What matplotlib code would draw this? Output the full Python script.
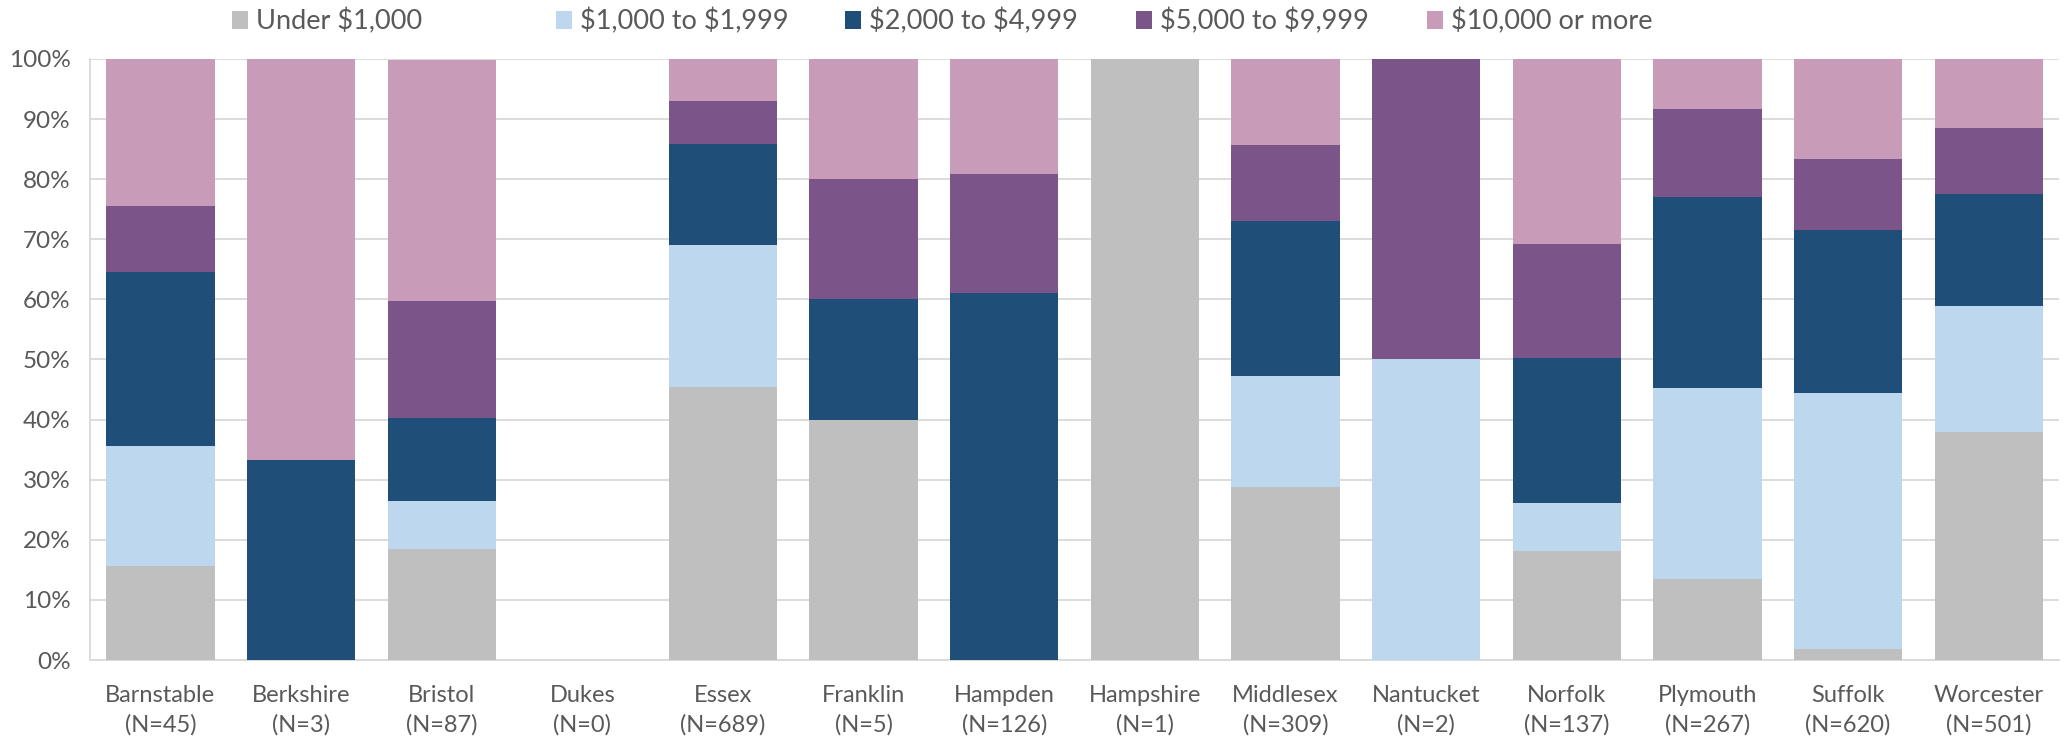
import numpy as np
import matplotlib
matplotlib.use("Agg")
import matplotlib.pyplot as plt

counties = ["Barnstable", "Berkshire", "Bristol", "Dukes", "Essex", "Franklin", "Hampden",
            "Hampshire", "Middlesex", "Nantucket", "Norfolk", "Plymouth", "Suffolk", "Worcester"]
n_values = [45, 3, 87, 0, 689, 5, 126, 1, 309, 2, 137, 267, 620, 501]

series_names = ["Under \\$1,000", "\\$1,000 to \\$1,999", "\\$2,000 to \\$4,999",
                "\\$5,000 to \\$9,999", "\\$10,000 or more"]

# percent of each county, per series
under_1000 = [15.6, 0, 18.4, 0, 45.4, 40, 0, 100, 28.8, 0, 18.2, 13.5, 1.9, 37.9]
k1_to_2 = [20.0, 0, 8.0, 0, 23.7, 0, 0, 0, 18.4, 50, 8.0, 31.8, 42.6, 21.0]
k2_to_5 = [28.9, 33.3, 13.8, 0, 16.8, 20, 61.1, 0, 25.9, 0, 24.1, 31.8, 27.0, 18.6]
k5_to_10 = [11.1, 0, 19.5, 0, 7.1, 20, 19.8, 0, 12.6, 50, 19.0, 14.6, 11.8, 11.0]
k10_plus = [24.4, 66.7, 40.2, 0, 7.0, 20, 19.1, 0, 14.3, 0, 30.7, 8.3, 16.7, 11.5]

colors = ["#BFBFBF", "#BDD7EE", "#1F4E79", "#7B5489", "#C89BB9"]
text_color = "#595959"

plt.rcParams["font.family"] = ["Lato", "DejaVu Sans"]

fig = plt.figure(figsize=(20.66, 7.42), dpi=100)
ax = fig.add_axes([0.0436, 0.1105, 0.953, 0.81])

x = np.arange(len(counties))
bottom = np.zeros(len(counties))
handles = []
for name, vals, col in zip(series_names, [under_1000, k1_to_2, k2_to_5, k5_to_10, k10_plus], colors):
    vals = np.array(vals)
    b = ax.bar(x, vals, width=0.77, bottom=bottom, color=col, label=name, zorder=3)
    handles.append(b)
    bottom += vals

ax.set_xlim(-0.5, len(counties) - 0.5)
ax.set_ylim(0, 100)
ax.set_yticks(np.arange(0, 101, 10))
ax.set_yticklabels([f"{v}%" for v in range(0, 101, 10)])
ax.set_xticks(x)
ax.set_xticklabels([f"{c}\n(N={n})" for c, n in zip(counties, n_values)], linespacing=1.45)

ax.grid(axis="y", color="#D9D9D9", linewidth=1.3, zorder=0)
for side in ["top", "right"]:
    ax.spines[side].set_visible(False)
for side in ["left", "bottom"]:
    ax.spines[side].set_color("#D9D9D9")
    ax.spines[side].set_linewidth(1.3)

ax.tick_params(axis="both", length=0, colors=text_color)
ax.tick_params(axis="x", pad=18, labelsize=17)
ax.tick_params(axis="y", pad=14, labelsize=17.5)

# Excel-style legend: equally spaced entries across the top
legend_x = [0.1122, 0.2691, 0.4088, 0.5497, 0.6906]
for h, name, lx in zip(handles, series_names, legend_x):
    fig.legend([h], [name], loc="center left", bbox_to_anchor=(lx, 0.971),
               frameon=False, fontsize=19.5, labelcolor=text_color, handlelength=0.6,
               handleheight=0.6, handletextpad=0.3, borderpad=0, borderaxespad=0)

fig.savefig("out.png", dpi=100)
plt.close(fig)
